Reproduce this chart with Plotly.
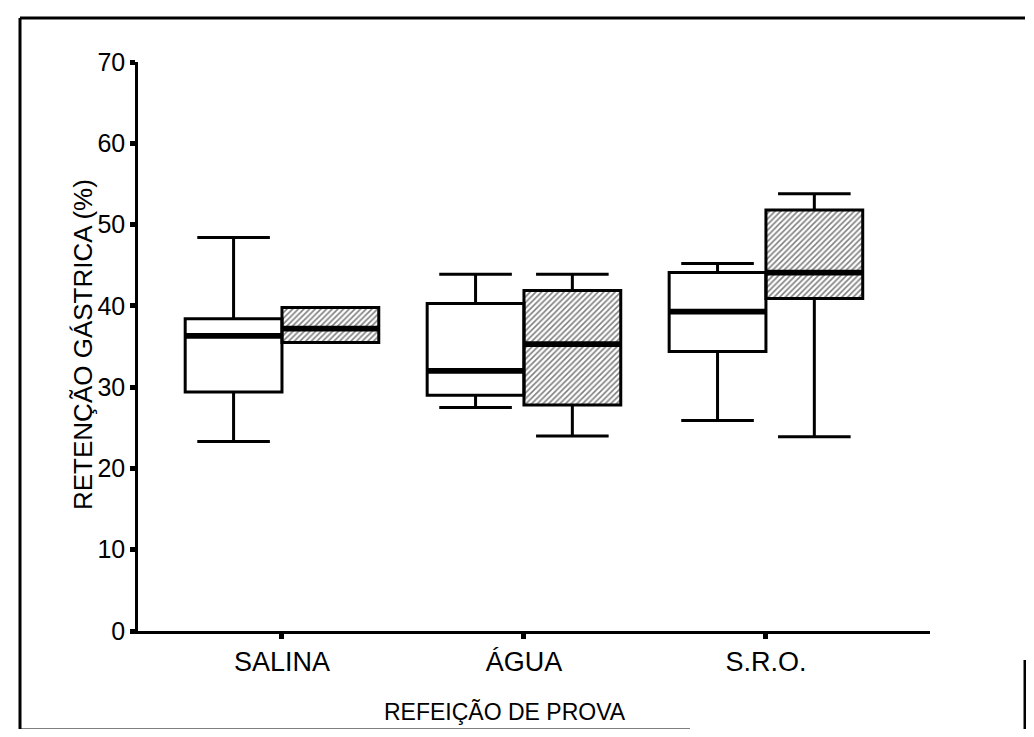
"""Boxplot: retenção gástrica por refeição de prova (two groups per meal)."""

import plotly.graph_objects as go

MEALS = ["SALINA", "ÁGUA", "S.R.O."]

# group 1 (white boxes)
W_LOW = [23.3, 27.5, 25.9]
W_Q1 = [29.4, 29.0, 34.4]
W_MED = [36.3, 32.0, 39.3]
W_Q3 = [38.4, 40.3, 44.1]
W_HIGH = [48.4, 43.9, 45.2]

# group 2 (hatched boxes)
H_LOW = [35.5, 24.0, 23.9]
H_Q1 = [35.5, 27.8, 40.9]
H_MED = [37.2, 35.3, 44.1]
H_Q3 = [39.8, 41.9, 51.8]
H_HIGH = [39.8, 43.9, 53.8]

Y_TICKS = [0, 10, 20, 30, 40, 50, 60, 70]

FONT = "Liberation Sans, Arial, sans-serif"
BOX_W = 0.4
MED_H = 0.7

# plot area in screen pixels; the page body adds an 8px margin
L, R, T, B = 138, 930, 62, 631
OFF = 8
W, H = 1034 - 2 * OFF, 737 - 2 * OFF


def px(x, y):
    """screen pixel -> paper coordinates"""
    return (x - L) / (R - L), (B - y) / (B - T)


pos = list(range(len(MEALS)))
pos_a = [p - BOX_W / 2 for p in pos]
pos_b = [p + BOX_W / 2 for p in pos]

fig = go.Figure()

# hatched fill for the second group, drawn under the box outlines
fig.add_trace(go.Bar(
    x=pos_b,
    y=[q3 - q1 for q1, q3 in zip(H_Q1, H_Q3)],
    base=H_Q1,
    width=BOX_W,
    marker=dict(
        color="white",
        line=dict(width=0),
        pattern=dict(shape="/", fgcolor="black", bgcolor="white",
                     size=4, solidity=0.4),
    ),
    showlegend=False,
    hoverinfo="skip",
))

# thick median bars
fig.add_trace(go.Bar(
    x=pos_a, y=[MED_H] * 3, base=[m - MED_H / 2 for m in W_MED],
    width=BOX_W, marker=dict(color="black", line=dict(width=0)),
    showlegend=False, hoverinfo="skip",
))
fig.add_trace(go.Bar(
    x=pos_b, y=[MED_H] * 3, base=[m - MED_H / 2 for m in H_MED],
    width=BOX_W, marker=dict(color="black", line=dict(width=0)),
    showlegend=False, hoverinfo="skip",
))

box_style = dict(
    line=dict(color="black", width=3),
    fillcolor="rgba(0,0,0,0)",
    whiskerwidth=0.75,
    width=BOX_W,
    showlegend=False,
    hoverinfo="skip",
)
fig.add_trace(go.Box(
    x=pos_a, q1=W_Q1, median=W_MED, q3=W_Q3,
    lowerfence=W_LOW, upperfence=W_HIGH, name="A", **box_style,
))
fig.add_trace(go.Box(
    x=pos_b, q1=H_Q1, median=H_MED, q3=H_Q3,
    lowerfence=H_LOW, upperfence=H_HIGH, name="B", **box_style,
))

# outer frame of the scanned figure
x0, y0 = px(20, 730)
x1, y1 = px(1025, 18)
frame = dict(type="line", xref="paper", yref="paper",
             line=dict(color="black", width=3))
fig.add_shape(x0=x0, x1=x0, y0=y0, y1=y1, **frame)
fig.add_shape(x0=x0, x1=x1, y0=y1, y1=y1, **frame)
fig.add_shape(x0=x0, x1=px(690, 0)[0], y0=y0, y1=y0, **frame)
fig.add_shape(x0=x1, x1=x1, y0=px(0, 737)[1], y1=px(0, 660)[1], **frame)

tx, ty = px(505, 712)
fig.add_annotation(
    text="REFEIÇÃO DE PROVA", xref="paper", yref="paper", x=tx, y=ty,
    xanchor="center", yanchor="middle",
    showarrow=False, font=dict(family=FONT, size=23, color="black"),
)
ax, ay = px(83, 345)
fig.add_annotation(
    text="RETENÇÃO GÁSTRICA (%)", xref="paper", yref="paper", x=ax, y=ay,
    xanchor="center", yanchor="middle",
    textangle=-90, showarrow=False,
    font=dict(family=FONT, size=26, color="black"),
)

fig.update_layout(
    width=W, height=H,
    margin=dict(l=L - OFF, r=W - (R - OFF), t=T - OFF, b=H - (B - OFF)),
    paper_bgcolor="white",
    plot_bgcolor="white",
    barmode="overlay",
    boxmode="overlay",
    font=dict(family=FONT, color="black"),
    showlegend=False,
)
fig.update_xaxes(
    range=[-0.595, 2.678],
    tickvals=pos,
    ticktext=MEALS,
    showline=True, linecolor="black", linewidth=2.5,
    ticks="outside", ticklen=5, tickwidth=5, tickcolor="black",
    tickfont=dict(size=27),
    showgrid=False, zeroline=False,
)
fig.update_yaxes(
    range=[0, 70],
    tickvals=Y_TICKS,
    showline=True, linecolor="black", linewidth=2.5,
    ticks="outside", ticklen=5, tickwidth=5, tickcolor="black",
    tickfont=dict(size=25),
    showgrid=False, zeroline=False,
)

fig.write_html("out.html")
